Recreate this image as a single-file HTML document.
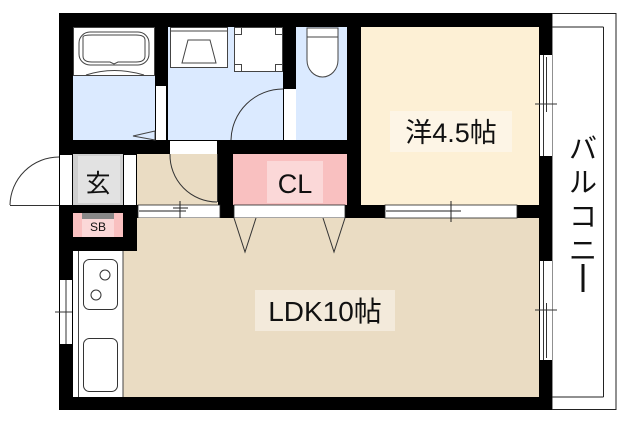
<!DOCTYPE html>
<html><head><meta charset="utf-8"><style>
html,body{margin:0;padding:0;background:#fff;width:630px;height:424px;overflow:hidden}
svg{display:block}
text{font-family:"Liberation Sans","Noto Sans CJK JP",sans-serif;fill:#111}
</style></head><body>
<svg width="630" height="424" viewBox="0 0 630 424" xmlns="http://www.w3.org/2000/svg">
<!-- balcony -->
<rect x="552" y="13.5" width="64" height="396" fill="#fff" stroke="#222" stroke-width="1"/>
<line x1="603.5" y1="27" x2="603.5" y2="397" stroke="#222"/>
<line x1="552" y1="27" x2="603.5" y2="27" stroke="#222"/>
<line x1="552" y1="397" x2="603.5" y2="397" stroke="#222"/>
<!-- outer wall -->
<rect x="59" y="13" width="493" height="397" fill="#000"/>
<!-- bath -->
<rect x="73" y="27" width="82" height="113" fill="#dbeaff"/>
<rect x="73.5" y="27.5" width="81" height="48" fill="#fff" stroke="#444"/>
<rect x="79" y="32" width="70" height="33" rx="11" fill="none" stroke="#444"/>
<path d="M83 37 Q83 35 92 35 L136 35 Q145 35 145 40 L145 56 Q145 62 136 62 L118 62 L114 64 L110 62 L92 62 Q83 62 83 56 Z" fill="none" stroke="#444"/>
<path d="M86 75 Q114 66 144 75" fill="none" stroke="#444"/>
<path d="M133 136 L155 131 L155 140 Z" fill="none" stroke="#444"/>
<rect x="156" y="86" width="10" height="54" fill="#fff"/>
<!-- wash -->
<rect x="168" y="27" width="115" height="113" fill="#dbeaff"/>
<rect x="170.5" y="27.5" width="57" height="40" fill="#fff" stroke="#444"/>
<line x1="170" y1="31" x2="228" y2="31" stroke="#444"/>
<path d="M188 40 L210 40 L216 63 L182 63 Z" fill="none" stroke="#444"/>
<rect x="234.5" y="27.5" width="48" height="44" fill="#fff" stroke="#444"/>
<rect x="234.5" y="27.5" width="7" height="7" fill="none" stroke="#444"/>
<rect x="275.5" y="27.5" width="7" height="7" fill="none" stroke="#444"/>
<rect x="234.5" y="64.5" width="7" height="7" fill="none" stroke="#444"/>
<rect x="275.5" y="64.5" width="7" height="7" fill="none" stroke="#444"/>
<path d="M231 140 A52 52 0 0 1 283 89" fill="none" stroke="#333"/>
<rect x="284" y="89" width="12" height="51" fill="#fff"/>
<!-- toilet -->
<rect x="296" y="27" width="51" height="113" fill="#dbeaff"/>
<path d="M307 28 L338 28 L338 60 A15.5 17 0 0 1 307 60 Z" fill="#fff" stroke="#444"/>
<line x1="307" y1="37" x2="338" y2="37" stroke="#444"/>
<!-- door opening in hall -->
<rect x="170" y="141" width="47" height="13" fill="#fff"/>
<!-- genkan -->
<rect x="73" y="154" width="50" height="51" fill="#cfcfcf"/>
<rect x="78" y="156" width="42" height="47" fill="#e2e2e2"/>
<text x="98" y="192" font-size="25" text-anchor="middle">玄</text>
<rect x="60" y="155" width="12" height="50" fill="#fff"/>
<rect x="124" y="155" width="12" height="50" fill="#fff"/>
<path d="M10 205 A49 49 0 0 1 59 157" fill="none" stroke="#333"/>
<line x1="10" y1="205.5" x2="59" y2="205.5" stroke="#333"/>
<!-- hall -->
<rect x="137" y="154" width="81" height="51" fill="#eadcc3"/>
<path d="M170 154 A47 47 0 0 0 217 202" fill="none" stroke="#333"/>
<line x1="217.5" y1="154" x2="217.5" y2="202" stroke="#333"/>
<rect x="138" y="205" width="82" height="13" fill="#fff" stroke="#222" stroke-width="0.8"/>
<line x1="139" y1="211" x2="186" y2="211" stroke="#222"/>
<line x1="180" y1="201" x2="180" y2="222" stroke="#222"/>
<line x1="173" y1="208" x2="188" y2="208" stroke="#222"/>
<!-- CL -->
<rect x="233" y="154" width="114" height="51" fill="#f9c0c0"/>
<rect x="267" y="161" width="56" height="42" fill="#fbd8d8"/>
<text x="295" y="193" font-size="27" text-anchor="middle">CL</text>
<rect x="234" y="205" width="111" height="13" fill="#fff" stroke="#222" stroke-width="0.8"/>
<!-- SB -->
<rect x="73" y="213" width="50" height="24" fill="#f9c0c0"/>
<rect x="82" y="213" width="32" height="6" fill="#888"/>
<rect x="82" y="219" width="32" height="18" fill="#fbd8d8"/>
<text x="98" y="231" font-size="12" text-anchor="middle">SB</text>
<!-- LDK -->
<rect x="137" y="218" width="402" height="179" fill="#eadcc3"/>
<rect x="123" y="251" width="14" height="146" fill="#eadcc3"/>
<path d="M234 218 L245 252 L256 218 M323 218 L334 252 L345 218" fill="none" stroke="#333"/>
<rect x="255" y="290" width="140" height="41" fill="#f3eadb"/>
<text x="325" y="321" font-size="28" text-anchor="middle">LDK10帖</text>
<!-- kitchen -->
<rect x="73" y="251" width="50" height="146" fill="#fff"/>
<line x1="78.5" y1="251" x2="78.5" y2="397" stroke="#444"/>
<line x1="123" y1="251" x2="123" y2="397" stroke="#444"/>
<rect x="83.5" y="259.5" width="34" height="50" rx="6" fill="none" stroke="#333"/>
<circle cx="105" cy="275" r="5" fill="none" stroke="#333"/>
<circle cx="96" cy="295" r="5" fill="none" stroke="#333"/>
<rect x="83.5" y="338.5" width="34" height="53" rx="6" fill="none" stroke="#333"/>
<rect x="60" y="280" width="12" height="64" fill="#fff"/>
<line x1="66" y1="280" x2="66" y2="344" stroke="#333"/>
<line x1="55" y1="312" x2="72" y2="312" stroke="#333"/>
<line x1="66" y1="306" x2="66" y2="318" stroke="#333"/>
<!-- western -->
<rect x="361" y="27" width="178" height="178" fill="#fdf0d5"/>
<rect x="390" y="111" width="122" height="41" fill="#fdf5e6"/>
<text x="451" y="142" font-size="27" text-anchor="middle">洋4.5帖</text>
<rect x="385" y="205" width="132" height="13" fill="#fff" stroke="#222" stroke-width="0.8"/>
<line x1="386" y1="211" x2="461" y2="211" stroke="#222"/>
<line x1="451" y1="201" x2="451" y2="222" stroke="#222"/>
<!-- right windows -->
<rect x="540" y="55" width="12" height="101" fill="#fff"/>
<line x1="543.5" y1="55" x2="543.5" y2="156" stroke="#333"/>
<line x1="546.5" y1="57" x2="546.5" y2="112" stroke="#333"/>
<line x1="535" y1="104" x2="557" y2="104" stroke="#333"/>
<rect x="540" y="261" width="12" height="99" fill="#fff"/>
<line x1="543.5" y1="261" x2="543.5" y2="360" stroke="#333"/>
<line x1="546.5" y1="303" x2="546.5" y2="358" stroke="#333"/>
<line x1="535" y1="310" x2="557" y2="310" stroke="#333"/>
<!-- balcony text -->
<text x="583" y="158" font-size="28" text-anchor="middle">バ</text>
<text x="583" y="192" font-size="28" text-anchor="middle">ル</text>
<text x="583" y="226" font-size="28" text-anchor="middle">コ</text>
<text x="583" y="260" font-size="28" text-anchor="middle">ニ</text>
<rect x="581.5" y="264" width="3" height="28" fill="#111"/>
</svg>
</body></html>
